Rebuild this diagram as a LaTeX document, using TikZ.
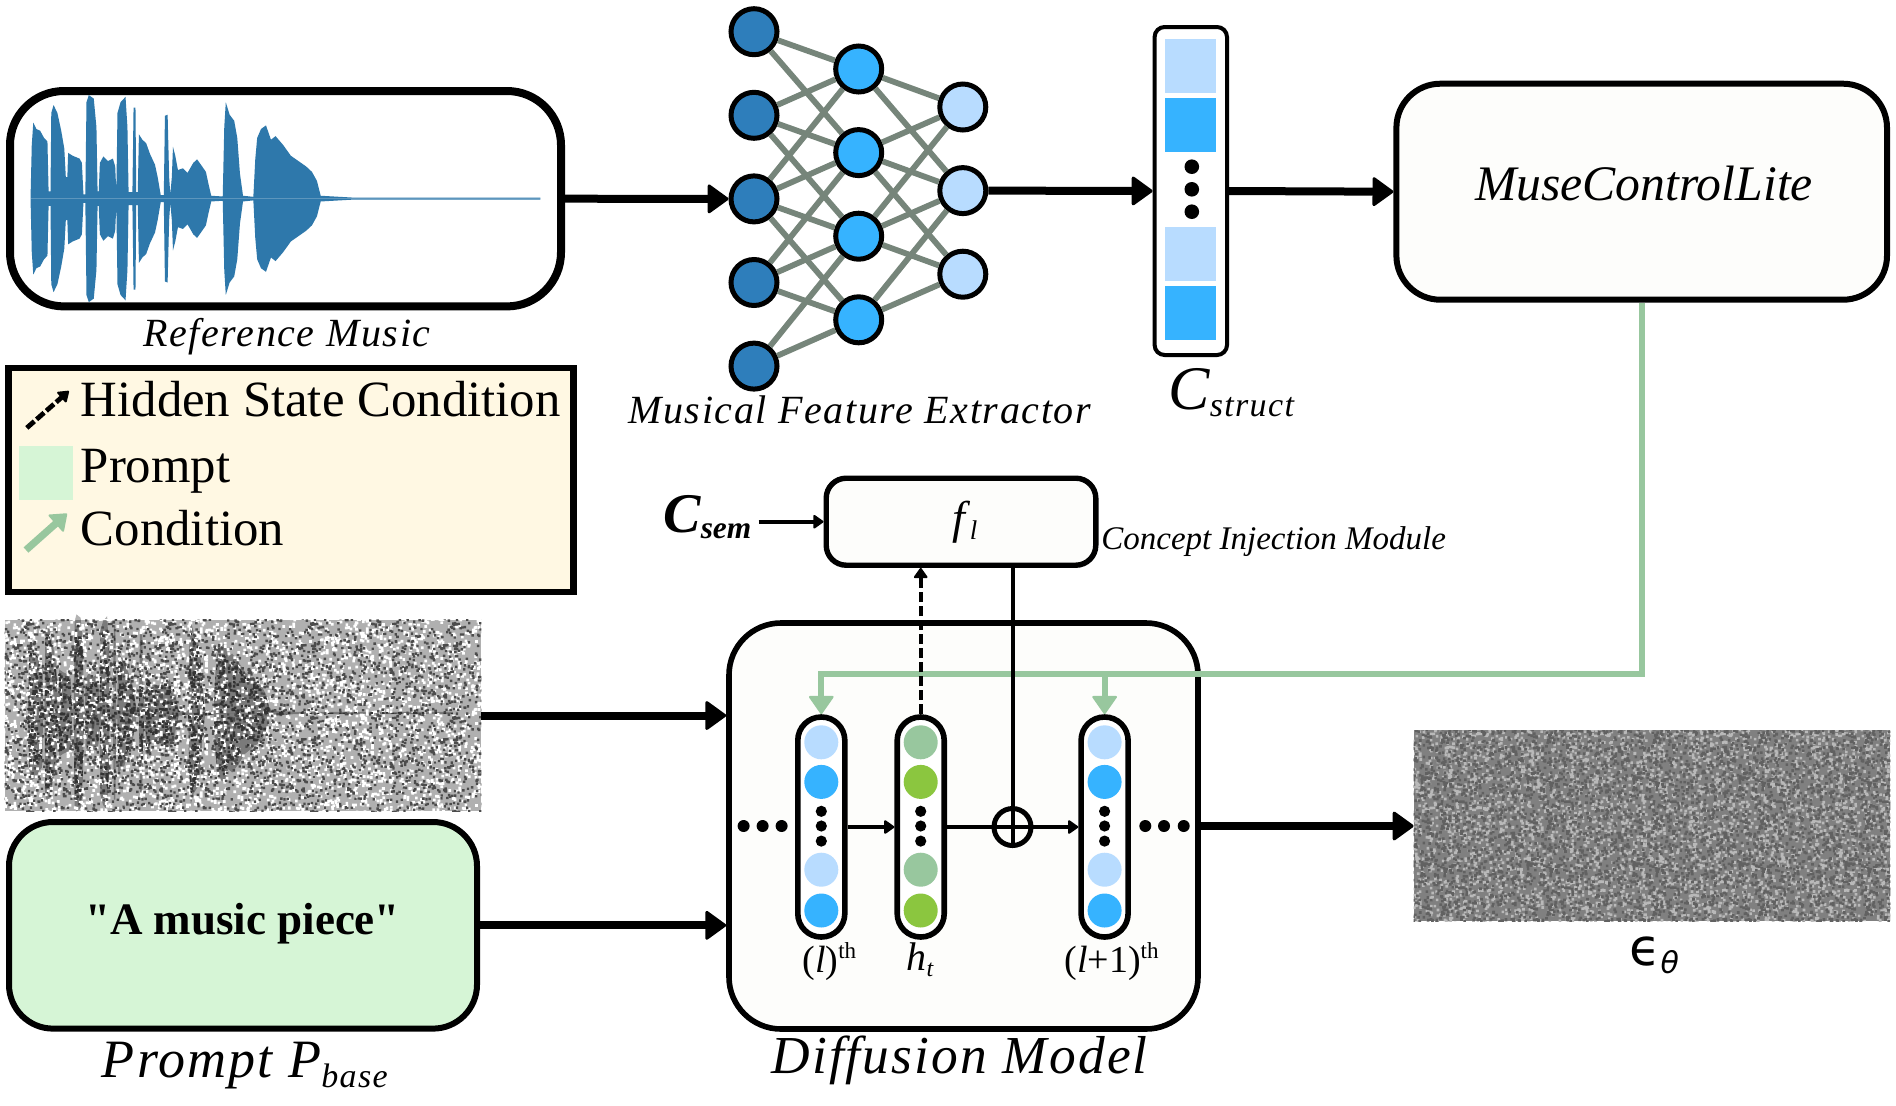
\documentclass[tikz,border=0pt]{standalone}
\usepackage{fontspec}
\setmainfont{Liberation Serif}
\newfontfamily\capfont[LetterSpace=4]{Liberation Serif}
\newfontfamily\plainfont{Liberation Serif}
\newfontfamily\epsfont{DejaVu Sans}
\usetikzlibrary{positioning, arrows.meta, patterns}

\definecolor{wavecol}{HTML}{2E78AB}
\definecolor{deepblue}{HTML}{2E7EBB}
\definecolor{midblue}{HTML}{36B3FF}
\definecolor{paleblue}{HTML}{B8DCFF}
\definecolor{sagegreen}{HTML}{98C79E}
\definecolor{leafgreen}{HTML}{8BC63F}
\definecolor{promptgreen}{HTML}{D6F5D6}
\definecolor{keycream}{HTML}{FFF8E3}
\definecolor{boxwhite}{HTML}{FDFDFB}
\definecolor{linkgray}{HTML}{76857A}

\newcommand{\fsz}[1]{\fontsize{#1}{#1}\selectfont}
\newcommand{\lowtxt}[3]{\raisebox{#1}{\fsz{#2}#3}}
% random square grains as a tile, for the two noise pictures
\newcommand{\grainset}[5]{%
  \pgfdeclarepatternformonly{#1}{\pgfqpoint{0pt}{0pt}}{\pgfpoint{#2pt+#5pt}{#3pt+#5pt}}{\pgfqpoint{#2pt}{#3pt}}{%
    \foreach \i in {1,...,#4} {
      \pgfmathsetmacro{\gx}{rnd*#2}
      \pgfmathsetmacro{\gy}{rnd*#3}
      \pgfpathrectangle{\pgfqpoint{\gx pt}{\gy pt}}{\pgfqpoint{#5pt}{#5pt}}
    }
    \pgfusepath{fill}
  }}
\pgfmathsetseed{4242}
\grainset{grainlight}{83}{41}{560}{1.35}
\grainset{graindark}{71}{47}{470}{1.2}
\grainset{grainextra}{67}{53}{680}{1.3}
\grainset{finelight}{61}{37}{430}{1.3}
\grainset{finedark}{53}{43}{420}{1.3}

% outline of the sound wave, both halves
\newcommand{\waveshape}[1]{%
  \foreach \flip in {1,-1} {
    \begin{scope}[yscale=\flip]
      \fill[#1] plot coordinates {(80,0)(80,10)(83,150)(87,213)(95,195)(105,190)(115,170)(124,160)(127,20)(132,20)(134,240)(140,262)(150,240)(160,190)(168,140)(172,60)(176,60)(178,128)(190,120)(208,112)(214,100)(218,12)(223,12)(226,270)(232,290)(245,280)(252,200)(255,20)(258,20)(261,100)(270,118)(282,105)(295,112)(301,90)(304,18)(307,240)(315,270)(328,285)(333,200)(336,18)(346,18)(349,255)(354,255)(356,18)(360,18)(363,180)(372,165)(382,155)(392,125)(405,95)(412,60)(420,10)(428,10)(431,232)(438,235)(442,60)(445,12)(449,60)(452,145)(458,120)(465,80)(478,85)(490,72)(505,100)(515,110)(525,95)(538,75)(545,40)(552,8)(582,6)(586,200)(590,270)(600,235)(612,218)(620,170)(627,70)(635,8)(662,5)(667,110)(672,170)(682,195)(695,205)(708,165)(720,175)(740,150)(760,120)(780,105)(800,90)(815,75)(828,50)(838,8)(920,3)(1412,3)(1412,0)} -- cycle;
    \end{scope}
  }}

\tikzset{
  panel/.style={draw=black, rectangle},
  neuron/.style={draw=black, circle, line width=2.5pt, minimum size=23pt, inner sep=0pt},
  synapse/.style={draw=linkgray, line width=2.9pt},
  layerbar/.style={draw=black, fill=white, rectangle, rounded corners=11.7pt, line width=2.8pt, minimum width=23.5pt, minimum height=110pt, inner sep=0pt},
  unit/.style={circle, minimum size=17pt, inner sep=0pt},
  blob/.style={circle, fill=black, minimum size=#1, inner sep=0pt},
  swatch/.style={rectangle, inner sep=0pt},
  noisebox/.style={rectangle, inner sep=0pt},
  lbl/.style={inner sep=0pt, anchor=base},
  lblw/.style={inner sep=0pt, anchor=base west},
  bigarrow/.style={-{Triangle[round, length=11pt, width=15.5pt, line width=1.5pt]}, line width=4pt},
  smallarrow/.style={-{Triangle[round, length=5.5pt, width=7.5pt, line width=1pt]}, line width=2pt},
  condarrow/.style={-{Triangle[round, length=9.5pt, width=13pt, line width=1pt]}, draw=sagegreen, color=sagegreen, line width=3pt},
}

\begin{document}
\begin{tikzpicture}[x=.5pt, y=-.5pt, node distance=41.8pt]
  \useasboundingbox (0,0) rectangle (1896,1105);

  % reference music
  \node[panel, fill=white, line width=4pt, rounded corners=27pt, minimum width=275.5pt, minimum height=107.7pt] (refbox) at (285.5,198.7) {};
  \begin{scope}[shift={(0,198.6)}, xscale=.3827, yscale=.357]
    \waveshape{wavecol}
  \end{scope}
  \node[lbl, font=\capfont\itshape\fsz{20}] (reflabel) at (287,346.7) {Reference Music};

  % key
  \node[panel, fill=keycream, line width=3.2pt, minimum width=282.5pt, minimum height=112pt] (keybox) at (291,480) {};
  \node[lblw, font=\fsz{25.4}] (keyhidden) at (80.4,416.5) {Hidden State Condition};
  \node[lblw, font=\fsz{25.4}] (keyprompt) at (80.4,482) {Prompt};
  \node[lblw, font=\fsz{25.4}] (keycond) at (80.4,545.5) {Condition};
  \node[swatch, fill=promptgreen, minimum width=26.8pt, minimum height=27.2pt] (keyswatch) at (45.9,472.9) {};
  \coordinate (keydashA) at (26.8,427.9);
  \coordinate (keydashB) at (68.9,391);
  \coordinate (keycondA) at (26,550);
  \coordinate (keycondB) at (67,513.6);
  \draw[smallarrow, line width=2.4pt, dash pattern=on 5pt off 1.5pt] (keydashA) -- (keydashB);
  \draw[-{Triangle[round, length=8pt, width=12pt, line width=1pt]}, draw=sagegreen, color=sagegreen, line width=3.6pt] (keycondA) -- (keycondB);

  % extractor
  \node[neuron, fill=deepblue] (l1) at (754,31.7) {};
    \node[neuron, fill=deepblue, below of=l1] (l2) {};
    \node[neuron, fill=deepblue, below of=l2] (l3) {};
    \node[neuron, fill=deepblue, below of=l3] (l4) {};
    \node[neuron, fill=deepblue, below of=l4] (l5) {};
  \node[neuron, fill=midblue] (m1) at (858.7,69) {};
    \node[neuron, fill=midblue, below of=m1] (m2) {};
    \node[neuron, fill=midblue, below of=m2] (m3) {};
    \node[neuron, fill=midblue, below of=m3] (m4) {};
  \node[neuron, fill=paleblue] (r1) at (962.8,107) {};
    \node[neuron, fill=paleblue, below of=r1] (r2) {};
    \node[neuron, fill=paleblue, below of=r2] (r3) {};
  \foreach \a/\b in {1/1,1/2,2/1,2/2,2/3,3/1,3/2,3/3,3/4,4/2,4/3,4/4,5/3,5/4}
    \draw[synapse] (l\a) -- (m\b);
  \foreach \a/\b in {1/1,1/2,2/1,2/2,2/3,3/1,3/2,3/3,4/2,4/3}
    \draw[synapse] (m\a) -- (r\b);
  \node[lbl, font=\capfont\itshape\fsz{20}] (extlabel) at (859.7,423.7) {Musical Feature Extractor};

  % structure condition
  \node[panel, fill=white, line width=2pt, rounded corners=5pt, minimum width=36.2pt, minimum height=164pt] (cstruct) at (1190.8,191) {};
  \node[swatch, fill=paleblue, minimum width=25.5pt, minimum height=27pt] (cs1) at (1190.5,66.3) {};
    \node[swatch, fill=midblue, minimum width=25.5pt, minimum height=27pt] (cs2) at (1190.5,124.7) {};
    \node[swatch, fill=paleblue, minimum width=25.5pt, minimum height=27pt] (cs3) at (1190.5,254.2) {};
    \node[swatch, fill=midblue, minimum width=25.5pt, minimum height=27pt] (cs4) at (1190.5,313) {};
  \node[blob=7.3pt] (csd1) at (1191.8,166.7) {};
    \node[blob=7.3pt] (csd2) at (1191.8,189.3) {};
    \node[blob=7.3pt] (csd3) at (1191.8,211.7) {};
  \node[lblw, font=\capfont\itshape\fsz{31}] (cstructlabel) at (1168,409) {C\lowtxt{-3.5pt}{17}{struct}};

  % controlnet box
  \node[panel, fill=boxwhite, line width=3pt, rounded corners=22pt, minimum width=245.3pt, minimum height=108pt] (musebox) at (1641.7,191.7) {};
  \node[lbl, font=\itshape\fsz{24.85}] (muselabel) at (1644,200) {MuseControlLite};

  \draw[bigarrow] (refbox.east) -- (l3.west);
  \draw[bigarrow] (r2.east) -- (cstruct.west);
  \draw[bigarrow] (cstruct.east) -- (musebox.west);

  % noisy input
  \node[noisebox, fill=gray!62, minimum width=238pt, minimum height=95.5pt] (noisein) at (243,715.5) {};
  \begin{scope}[shift={(2.5,713)}, xscale=.319, yscale=.34]
    \waveshape{black, opacity=.3}
  \end{scope}
  \fill[pattern=grainlight, pattern color=white] (noisein.north west) rectangle (noisein.south east);
  \fill[pattern=graindark, pattern color=black!70] (noisein.north west) rectangle (noisein.south east);
  \begin{scope}[shift={(2.5,713)}, xscale=.319, yscale=.31]
    \waveshape{pattern=grainextra, pattern color=black!80}
  \end{scope}

  % prompt
  \node[panel, fill=promptgreen, line width=3pt, rounded corners=22pt, minimum width=234pt, minimum height=103.3pt] (promptbox) at (243,925.3) {};
  \node[lbl, font=\plainfont\bfseries\fsz{22.5}] (prompttxt) at (242.5,934) {"A music piece"};
  \node[lblw, font=\capfont\itshape\fsz{27}] (promptlabel) at (101.5,1077.5) {Prompt P\lowtxt{-5pt}{17}{base}};

  % diffusion model
  \node[panel, fill=boxwhite, line width=2.8pt, rounded corners=26pt, minimum width=234.5pt, minimum height=203pt] (diffbox) at (963.5,826) {};
  \node[lbl, font=\capfont\itshape\fsz{26.7}] (difflabel) at (959.5,1073) {Diffusion Model};
  \node[panel, fill=boxwhite, line width=2.7pt, rounded corners=10pt, minimum width=134.8pt, minimum height=43.5pt] (fbox) at (961,521.7) {};
  \node[lbl, font=\itshape\fsz{23}] (flabel) at (965,533) {f\lowtxt{-3pt}{13.5}{\,l}};
  \node[lblw, font=\itshape\fsz{16.5}] (cimlabel) at (1101,549.8) {Concept Injection Module};
  \node[lblw, font=\bfseries\itshape\fsz{28}] (csem) at (663,532.6) {C\lowtxt{-3pt}{15.7}{sem}};

  \foreach \name/\cx/\cola/\colb in {lay1/821.3/paleblue/midblue, ht/920.7/sagegreen/leafgreen, lay2/1104.6/paleblue/midblue} {
    \node[layerbar] (\name) at (\cx,827) {};
    \node[unit, fill=\cola] (\name a) at (\cx,742.3) {};
    \node[unit, fill=\colb] (\name b) at (\cx,781.9) {};
    \node[unit, fill=\cola] (\name c) at (\cx,869.7) {};
    \node[unit, fill=\colb] (\name d) at (\cx,910.5) {};
    \foreach \k/\cy in {1/811.3, 2/826, 3/841.1}
      \node[blob=5.6pt] (\name dot\k) at (\cx,\cy) {};
  }
  \foreach \k/\dx in {1/743.6, 2/762.6, 3/781.6, 4/1145.3, 5/1164, 6/1183.7}
    \node[blob=6pt] (dd\k) at (\dx,826) {};
  \node[draw=black, circle, line width=2.5pt, minimum size=18.5pt, inner sep=0pt] (oplus) at (1012.5,827) {};

  \node[lblw, font=\fsz{19}] (layone) at (802,972) {(\textit{l})\lowtxt{7pt}{11.5}{th}};
  \node[lbl, font=\itshape\fsz{20}] (htlabel) at (920,970) {h\lowtxt{-3pt}{12}{t}};
  \node[lblw, font=\fsz{19}] (laytwo) at (1064,972) {(\textit{l}+1)\lowtxt{7pt}{11.5}{th}};

  % wiring of the model
  \coordinate (gbus) at (821.3,674.3);
  \draw[condarrow] (musebox.south) |- (gbus) -- (lay1.north);
  \draw[condarrow] (gbus -| lay2.north) -- (lay2.north);
  \draw[smallarrow, dash pattern=on 5pt off 2pt] (ht.north) -- (ht.north |- fbox.south);
  \draw[line width=2pt] (oplus.south |- fbox.south) -- (oplus.south);
  \draw[smallarrow] (lay1.east) -- (ht.west);
  \draw[line width=2pt] (ht.east) -- (oplus.east);
  \draw[smallarrow] (oplus.east) -- (lay2.west);
  \draw[smallarrow, shorten <=3.5pt] (csem.east |- fbox.west) -- (fbox.west);

  \draw[bigarrow] (noisein.east) -- (noisein.east -| diffbox.west);
  \draw[bigarrow] (promptbox.east) -- (promptbox.east -| diffbox.west);

  % predicted noise
  \node[noisebox, fill=gray, minimum width=238pt, minimum height=95.1pt] (noiseout) at (1652,825.5) {};
  \fill[pattern=finelight, pattern color=gray!55] (noiseout.north west) rectangle (noiseout.south east);
  \fill[pattern=finedark, pattern color=black!62] (noiseout.north west) rectangle (noiseout.south east);
  \draw[bigarrow] (diffbox.east) -- (diffbox.east -| noiseout.west);
  \node[lbl, font=\epsfont\fsz{25.6}] (epslabel) at (1654,965) {ϵ\lowtxt{-4pt}{15}{\itshape θ}};
\end{tikzpicture}
\end{document}
